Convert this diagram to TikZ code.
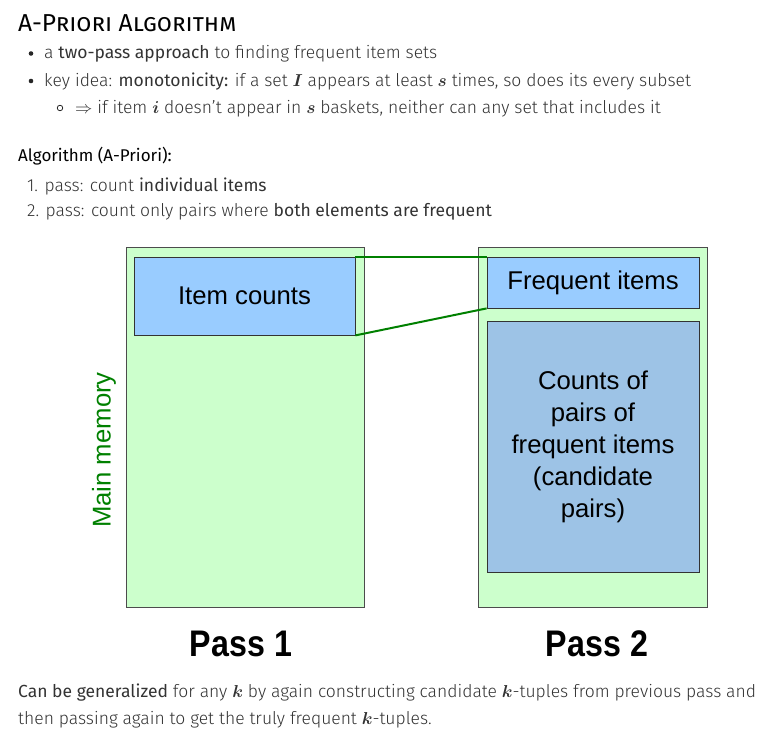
\documentclass[tikz,border=0pt]{standalone}
\usepackage{fontspec}
\usepackage{bm}
\setmainfont{Fira Sans Light}[BoldFont={Fira Sans}]
\newfontfamily\diagfont{Liberation Sans}
\newfontfamily\passfont[FakeStretch=0.87]{Liberation Sans}
\usetikzlibrary{positioning}

\definecolor{memgreen}{HTML}{CCFFCC}
\definecolor{countblue}{HTML}{99CCFF}
\definecolor{pairblue}{HTML}{9DC3E6}
\definecolor{linkgreen}{HTML}{008000}

\begin{document}
\begin{tikzpicture}[
        % Define styles for consistency
        x=1pt, y=-1pt,
        txt/.style={anchor=base west, inner sep=0pt, text=black!80, font=\fontsize{17.5}{21}\selectfont},
        dot/.style={circle, fill=black!85, inner sep=0pt, minimum size=4.6pt},
        ring/.style={circle, draw=black!85, line width=0.8pt, inner sep=0pt, minimum size=5.5pt},
        memory/.style={draw=black!70, fill=memgreen, line width=0.8pt, inner sep=0pt},
        block/.style={draw=black!80, fill=countblue, line width=0.8pt, inner sep=0pt, align=center, font=\diagfont\fontsize{25.7}{32}\selectfont},
        link/.style={linkgreen, line width=2pt},
        passlabel/.style={anchor=base, inner sep=0pt, font=\passfont\bfseries\fontsize{37}{40}\selectfont}
    ]

        \useasboundingbox (0,0) rectangle (779,746);

        % --- Header text ---
        \node[txt, text=black, font=\fontsize{24.5}{28}\selectfont\bfseries] (title) at (18,31.5) {\textsc{A-Priori Algorithm}};
        \node[dot] (dot1) at (31,53.5) {};
        \node[txt] (line1) at (44,59) {a \textbf{two-pass approach} to finding frequent item sets};
        \node[dot] (dot2) at (31,81) {};
        \node[txt] (line2) at (44,86.5) {key idea: \textbf{monotonicity:} if a set $\bm{I}$ appears at least $\bm{s}$ times, so does its every subset};
        \node[ring] (ring3) at (60,108) {};
        \node[txt] (line3) at (75,113.5) {$\Rightarrow$ if item $\bm{i}$ doesn't appear in $\bm{s}$ baskets, neither can any set that includes it};

        % --- Algorithm steps ---
        \node[txt, text=black, font=\fontsize{17}{21}\selectfont\bfseries] (algo) at (18,161.5) {Algorithm (A-Priori):};
        \node[txt] (step1) at (27,191.5) {1. pass: count \textbf{individual items}};
        \node[txt] (step2) at (27,217) {2. pass: count only pairs where \textbf{both elements are frequent}};

        % --- Memory blocks ---
        \node[memory, minimum width=238pt, minimum height=360pt] (pass1) at (245,427) {};
        \node[block, minimum width=221pt, minimum height=78pt] (counts) at (244.5,296) {Item counts};
        \node[memory, minimum width=229pt, minimum height=360pt] (pass2) at (592.5,427) {};
        \node[block, minimum width=212pt, minimum height=51pt] (freq) at (593,282.5) {Frequent items};
        \node[block, fill=pairblue, minimum width=212pt, minimum height=251pt] (pairs) at (593,446.5) {Counts of\\pairs of\\frequent items\\(candidate\\pairs)};

        % --- Links between passes ---
        \draw[link] (counts.north east) -- (freq.north west);
        \draw[link] (counts.south east) -- (freq.south west);

        % --- Labels ---
        \node[rotate=90, inner sep=0pt, text=linkgreen, font=\diagfont\fontsize{25.7}{30}\selectfont] (mainmem) at (104,450) {Main memory};
        \node[passlabel] (label1) at (241,656.5) {Pass 1};
        \node[passlabel] (label2) at (597,656.5) {Pass 2};

        % --- Footer text ---
        \node[txt] (foot1) at (18,697.5) {\textbf{Can be generalized} for any $\bm{k}$ by again constructing candidate $\bm{k}$-tuples from previous pass and};
        \node[txt] (foot2) at (18,724.5) {then passing again to get the truly frequent $\bm{k}$-tuples.};

    \end{tikzpicture}
\end{document}
